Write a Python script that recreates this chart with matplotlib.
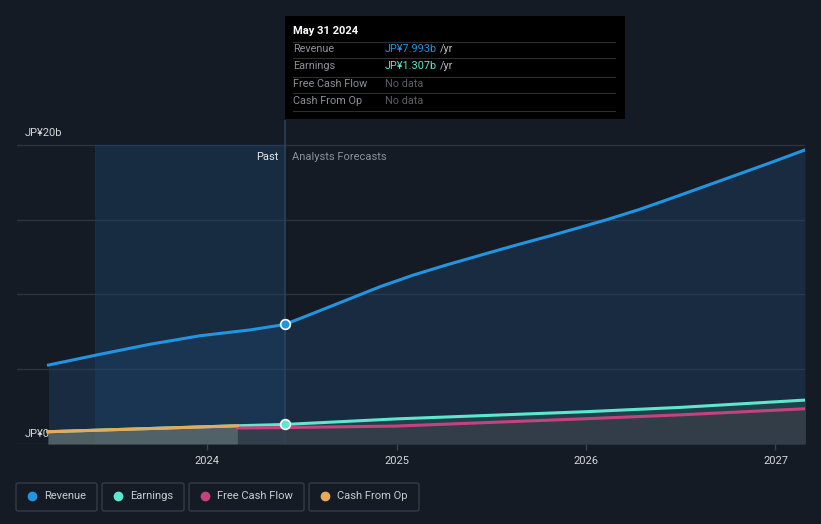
import matplotlib.pyplot as plt
from matplotlib.patches import FancyBboxPatch, Rectangle
from matplotlib.lines import Line2D

plt.rcParams['font.family'] = ['Roboto', 'DejaVu Sans']

# decimal years and values in JP¥ billions
rev_x = [2023.163, 2023.435, 2023.699, 2023.963, 2024.227, 2024.41, 2024.56, 2024.737,
         2024.913, 2025.089, 2025.265, 2025.441, 2025.616, 2025.81, 2025.933, 2026.109,
         2026.285, 2026.461, 2026.637, 2026.813, 2026.988, 2027.156]
rev_y = [5.28, 6.0, 6.67, 7.24, 7.63, 7.993, 8.74, 9.63,
         10.52, 11.30, 11.98, 12.62, 13.25, 13.92, 14.36, 15.0,
         15.7, 16.48, 17.28, 18.08, 18.88, 19.67]

earn_x = [2023.16, 2024.16, 2024.41, 2025.0, 2026.0, 2026.5, 2027.16]
earn_y = [0.82, 1.22, 1.307, 1.68, 2.16, 2.45, 2.94]

fcf_x = [2024.16, 2024.41, 2025.0, 2026.0, 2026.5, 2027.16]
fcf_y = [1.07, 1.1, 1.2, 1.69, 1.95, 2.36]

cfo_x = [2023.16, 2024.16]
cfo_y = [0.82, 1.22]

now_x = 2024.41
band_start = 2023.41
year_ticks = [2024, 2025, 2026, 2027]
grid_vals = [0, 5, 10, 15, 20]

BG = '#151b25'
C_REV = '#2394df'
C_EARN = '#5ee6cf'
C_FCF = '#c6427f'
C_CFO = '#e8a95b'

fig = plt.figure(figsize=(8.21, 5.24), dpi=100, facecolor=BG)
ax = fig.add_axes([17 / 821, 80 / 524, 788 / 821, 324 / 524])
ax.set_facecolor(BG)
ax.set_xlim(2022.997, 2027.156)
ax.set_ylim(0, 21.67)

for g in grid_vals:
    ax.axhline(g, color='#2c3441', lw=1, zorder=1)

# past highlight band and the "now" divider
ax.add_patch(Rectangle((band_start, 0), now_x - band_start, 20,
                       facecolor='#1c5182', alpha=0.3, lw=0, zorder=1))
ax.plot([now_x, now_x], [0, 21.67], color='#27435d', lw=1.2, zorder=2)

# area fills
ax.fill_between(rev_x, rev_y, 0, color='#1e4a74', alpha=0.35, lw=0, zorder=2)
ax.fill_between(earn_x, earn_y, 0, color='#2b5a5a', alpha=0.45, lw=0, zorder=3)
ax.fill_between(fcf_x, fcf_y, 0, color='#3a3c48', alpha=0.7, lw=0, zorder=3)
ax.fill_between(cfo_x, cfo_y, 0, color='#8a8480', alpha=0.45, lw=0, zorder=3)

ax.plot(rev_x, rev_y, color=C_REV, lw=2.2, zorder=5, solid_joinstyle='round')
ax.plot(earn_x, earn_y, color=C_EARN, lw=2.2, zorder=5)
ax.plot(fcf_x, fcf_y, color=C_FCF, lw=2.2, zorder=5)
ax.plot(cfo_x, cfo_y, color=C_CFO, lw=2.2, zorder=6)

ax.plot([now_x], [rev_y[rev_x.index(now_x)]], 'o', ms=7, mfc=C_REV, mec='white', mew=1.2, zorder=7)
ax.plot([now_x], [earn_y[earn_x.index(now_x)]], 'o', ms=7, mfc=C_EARN, mec='white', mew=1.2, zorder=7)

for s in ax.spines.values():
    s.set_visible(False)
ax.set_yticks([])
ax.set_xticks(year_ticks)
ax.set_xticklabels([str(y) for y in year_ticks])
ax.tick_params(axis='x', colors='#3a414d', length=4, width=1, pad=5,
               labelcolor='#d4d6da', labelsize=8)

ax.text(2023.04, 20.45, 'JP¥20b', color='#d4d6da', fontsize=8, va='bottom', ha='left')
ax.text(2023.04, 0.35, 'JP¥0', color='#d4d6da', fontsize=8, va='bottom', ha='left')
ax.text(now_x - 0.035, 19.2, 'Past', color='#e6e7ea', fontsize=8, ha='right', va='center')
ax.text(now_x + 0.04, 19.2, 'Analysts Forecasts', color='#8a9099', fontsize=8, ha='left', va='center')

# tooltip box (figure pixel coords)
def fx(px):
    return px / 821


def fy(py):
    return 1 - py / 524


fig.patches.append(Rectangle((fx(285), fy(119)), fx(340), 103 / 524,
                             transform=fig.transFigure, facecolor='black', lw=0, zorder=10))
fig.text(fx(293), fy(31), 'May 31 2024', color='white', fontsize=8, fontweight='bold',
         va='center', zorder=11)
for py in [41.7, 58.3, 76.7, 93.3, 111]:
    fig.lines.append(Line2D([fx(293), fx(615)], [fy(py), fy(py)], transform=fig.transFigure,
                            color='#2e2e2e', lw=0.8, zorder=11))
rows = [('Revenue', 'JP¥7.993b', C_REV, 49), ('Earnings', 'JP¥1.307b', C_EARN, 66),
        ('Free Cash Flow', 'No data', None, 84), ('Cash From Op', 'No data', None, 101)]
for label, val, col, py in rows:
    fig.text(fx(293), fy(py), label, color='#8b9097', fontsize=7.8, va='center', zorder=11)
    if col is None:
        fig.text(fx(385), fy(py), val, color='#5b5f66', fontsize=7.8, va='center', zorder=11)
    else:
        t = fig.text(fx(385), fy(py), val, color=col, fontsize=7.8, va='center', zorder=11)
        fig.canvas.draw()
        bb = t.get_window_extent()
        fig.text(bb.x1 / 821 + fx(3), fy(py), '/yr', color='#b8bcc2', fontsize=7.8,
                 va='center', zorder=11)

# legend boxes
legend = [('Revenue', C_REV, 16, 97), ('Earnings', C_EARN, 102, 184),
          ('Free Cash Flow', C_FCF, 189, 304), ('Cash From Op', C_CFO, 309, 419)]
for name, col, x0, x1 in legend:
    fig.patches.append(FancyBboxPatch((fx(x0), fy(511)), fx(x1 - x0), 28 / 524,
                                      boxstyle='round,pad=0,rounding_size=0.003',
                                      transform=fig.transFigure, facecolor='none',
                                      edgecolor='#353b47', lw=1))
    fig.lines.append(Line2D([fx(x0 + 16)], [fy(496)], marker='o', ms=6, color=col,
                            transform=fig.transFigure, lw=0))
    fig.text(fx(x0 + 28), fy(496), name, color='#c9ccd1', fontsize=8, va='center')

fig.savefig('out.png', dpi=100, facecolor=BG)
